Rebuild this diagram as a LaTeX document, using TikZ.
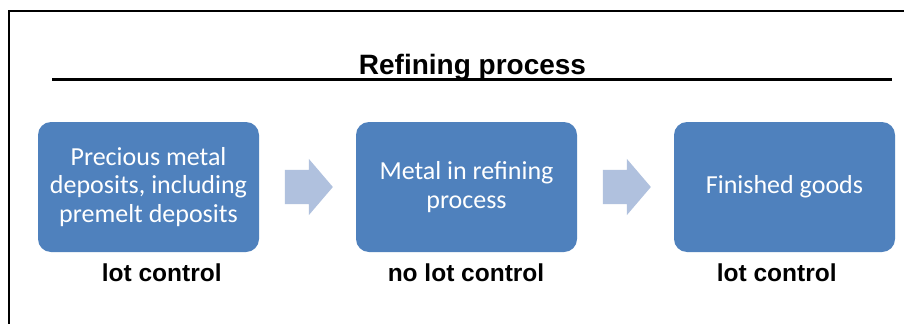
\documentclass[tikz,border=0pt]{standalone}
\usepackage{fontspec}
\setmainfont{Liberation Sans}
\newfontfamily\carlito{Carlito}
\usetikzlibrary{shapes.arrows,calc}
\definecolor{boxblue}{HTML}{4F81BD}
\definecolor{arrowblue}{HTML}{B0C1DE}
\tikzset{
  procbox/.style={fill=boxblue, draw=none, rounded corners=13pt, minimum width=221pt, minimum height=130pt,
    inner sep=0pt, text=white, align=center, font=\carlito\fontsize{26}{28.5}\selectfont},
  flowarrow/.style={single arrow, fill=arrowblue, draw=none, minimum width=56pt, minimum height=48pt,
    single arrow head extend=11pt, single arrow tip angle=99, inner xsep=0pt, inner ysep=17pt, xshift=-6pt},
  ctrllabel/.style={anchor=base, font=\bfseries\fontsize{24.5}{28}\selectfont, inner sep=0pt},
  frameline/.style={line width=2pt},
}
\begin{document}
\begin{tikzpicture}[x=1pt,y=-1pt]
\useasboundingbox (0,0) rectangle (904,324);
\fill[white] (0,0) rectangle (904,324);
\draw[frameline] (904,11) -- (9,11) -- (9,324);
\node[anchor=base, font=\bfseries\fontsize{28}{32}\selectfont, inner sep=0pt] (title) at (472.5,74) {Refining process};
\coordinate (hl) at (52,79.5);
\coordinate (hr) at (892,79.5);
\draw[line width=3pt] (hl) -- (hr);
\node[procbox] (b1) at (148.5,187) {Precious metal\\deposits, including\\premelt deposits};
\node[procbox] (b2) at (466.5,187) {Metal in refining\\process};
\node[procbox] (b3) at (784.5,187) {Finished goods};
\node[flowarrow] (a1) at ($(b1.east)!0.5!(b2.west)$) {};
\node[flowarrow] (a2) at ($(b2.east)!0.5!(b3.west)$) {};
\node[ctrllabel] (l1) at (161.7,281) {lot control};
\node[ctrllabel] (l2) at (466,281) {no lot control};
\node[ctrllabel] (l3) at (776.7,281) {lot control};
\end{tikzpicture}
\end{document}
